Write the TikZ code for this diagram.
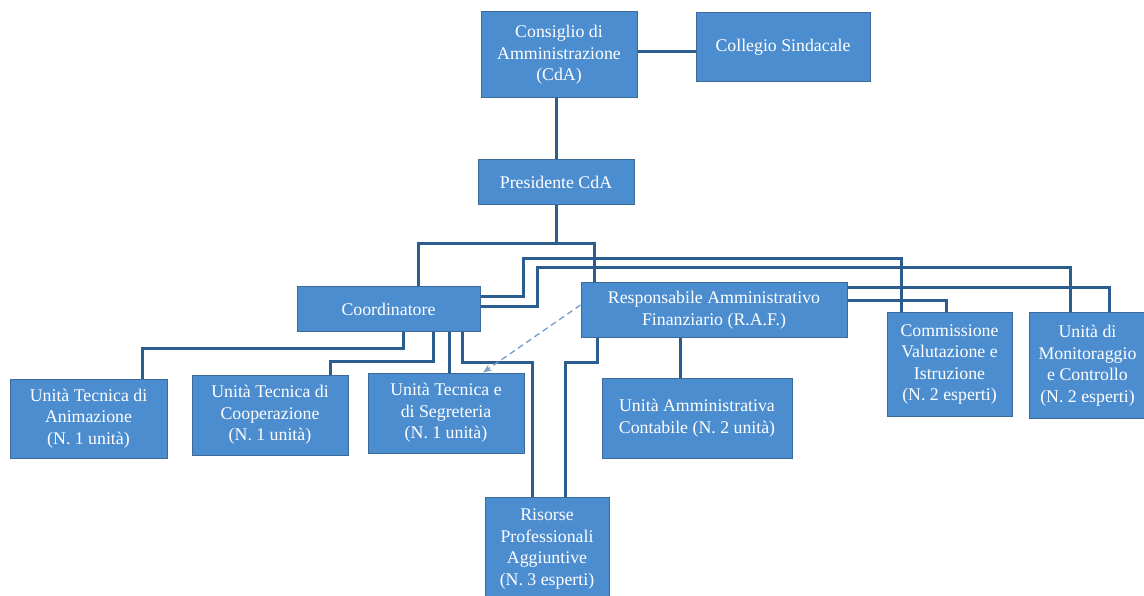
\documentclass[tikz,border=0pt]{standalone}
\usepackage{fontspec}
\setmainfont{Liberation Serif}
\usetikzlibrary{arrows.meta}
\definecolor{boxfill}{HTML}{4C8DD0}
\definecolor{boxline}{HTML}{3A6B9C}
\definecolor{conn}{HTML}{2C5D8F}
\definecolor{dashc}{HTML}{7AA3CC}
\begin{document}
\begin{tikzpicture}[x=1pt,y=-1pt,
  box/.style={rectangle,fill=boxfill,draw=boxline,line width=1pt,text=white,align=center,inner sep=0pt,
    font=\fontsize{17.8}{21.5}\selectfont},
  link/.style={draw=conn,line width=3pt,line join=miter},
  dlink/.style={draw=dashc,line width=1.4pt,dash pattern=on 6pt off 4pt,-{Stealth[length=9pt,width=7pt]}}]
\useasboundingbox (0,0) rectangle (1144,596);
\fill[white] (0,0) rectangle (1144,596);

\coordinate (j1) at (556,244);

% nodes
\node[box,minimum width=156pt,minimum height=86pt] (cda) at (559,55) {Consiglio di\\Amministrazione\\(CdA)};
\node[box,minimum width=174pt,minimum height=69pt] (coll) at (783,47.5) {Collegio Sindacale};
\node[box,minimum width=156pt,minimum height=45pt] (pres) at (556,182.5) {Presidente CdA};
\node[box,minimum width=183pt,minimum height=44pt] (coord) at (388.5,309) {Coordinatore};
\node[box,minimum width=266pt,minimum height=54pt] (raf) at (714,310) {Responsabile Amministrativo\\Finanziario (R.A.F.)};
\node[box,minimum width=157pt,minimum height=79pt] (anim) at (88.5,418.5) {Unità Tecnica di\\Animazione\\(N. 1 unità)};
\node[box,minimum width=156pt,minimum height=80pt] (coop) at (270,415) {Unità Tecnica di\\Cooperazione\\(N. 1 unità)};
\node[box,minimum width=156pt,minimum height=80pt] (segr) at (446,413) {Unità Tecnica e\\di Segreteria\\(N. 1 unità)};
\node[box,minimum width=190pt,minimum height=80pt] (uac) at (697,418) {Unità Amministrativa\\Contabile (N. 2 unità)};
\node[box,minimum width=125pt,minimum height=103pt] (comm) at (949.5,364.5) {Commissione\\Valutazione e\\Istruzione\\(N. 2 esperti)};
\node[box,minimum width=117pt,minimum height=105pt] (mon) at (1087.5,365.5) {Unità di\\Monitoraggio\\e Controllo\\(N. 2 esperti)};
\node[box,minimum width=124pt,minimum height=104pt] (ris) at (547,549) {Risorse\\Professionali\\Aggiuntive\\(N. 3 esperti)};

% CdA - Collegio
\draw[link] (cda.east |- 0,52) -- (coll.west |- 0,52);
% CdA - Presidente
\draw[link] (pres.north -| 556,0) -- (cda.south -| 556,0);
% Presidente - Coordinatore / RAF
\draw[link] (pres.south -| 556,0) -- (j1);
\draw[link] (j1) -- (418,244) -- (coord.north -| 418,0);
\draw[link] (j1) -- (594,244) -- (raf.north -| 594,0);
% Coordinatore - Commissione / Monitoraggio
\draw[link] (coord.east |- 0,297) -- (523,297) -- (523,259) -- (901,259) -- (comm.north -| 901,0);
\draw[link] (coord.east |- 0,307) -- (537,307) -- (537,268) -- (1070,268) -- (mon.north -| 1070,0);
% RAF - Monitoraggio / Commissione
\draw[link] (raf.east |- 0,288) -- (1109,288) -- (mon.north -| 1109,0);
\draw[link] (raf.east |- 0,301) -- (946,301) -- (comm.north -| 946,0);
% Coordinatore - lower units
\draw[link] (coord.south -| 403,0) -- (403,348) -- (142,348) -- (anim.north -| 142,0);
\draw[link] (coord.south -| 433,0) -- (433,361) -- (330,361) -- (coop.north -| 330,0);
\draw[link] (coord.south -| 449,0) -- (segr.north -| 449,0);
\draw[link] (coord.south -| 462,0) -- (462,362) -- (532,362) -- (ris.north -| 532,0);
% RAF - lower units
\draw[link] (raf.south -| 597,0) -- (597,362) -- (565,362) -- (ris.north -| 565,0);
\draw[link] (raf.south -| 680,0) -- (uac.north -| 680,0);
% dashed arrow RAF -> Segreteria
\draw[dlink] (raf.west |- 0,305) -- (segr.north -| 483,0);
\end{tikzpicture}
\end{document}
